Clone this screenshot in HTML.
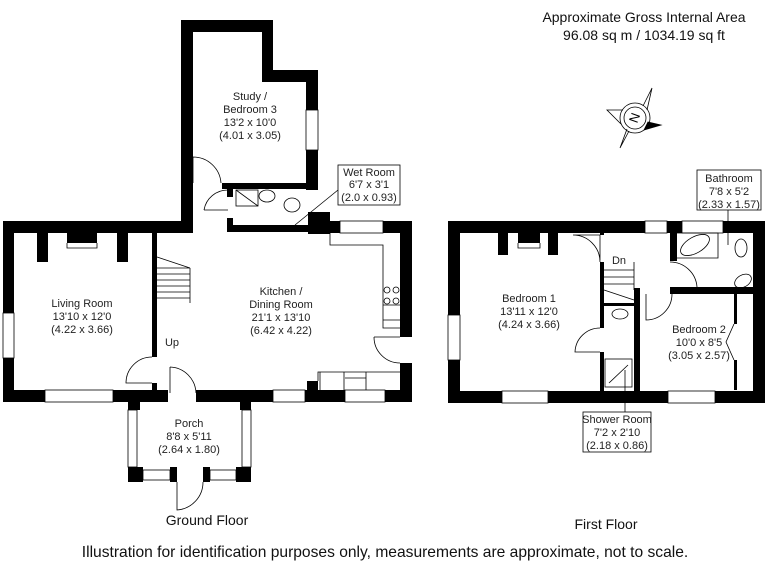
<!DOCTYPE html>
<html><head><meta charset="utf-8"><style>
html,body{margin:0;padding:0;background:#fff;}
svg{display:block;font-family:"Liberation Sans",Arial,sans-serif;}
</style></head><body>
<svg width="768" height="576" viewBox="0 0 768 576" xmlns="http://www.w3.org/2000/svg">
<g fill="#000">
<rect x="181" y="20" width="92" height="12"/>
<rect x="181" y="20" width="12" height="201"/>
<rect x="262" y="20" width="11" height="62"/>
<rect x="262" y="70" width="56" height="12"/>
<rect x="306" y="70" width="12" height="40"/>
<rect x="306" y="150" width="12" height="40"/>
<rect x="222" y="183" width="96" height="6"/>
<rect x="227" y="183" width="6" height="14"/>
<rect x="227" y="218" width="6" height="14"/>
<rect x="227" y="225" width="91" height="7"/>
<rect x="308" y="212" width="22" height="22"/>
<rect x="3" y="221" width="190" height="12"/>
<rect x="308" y="221" width="32" height="12"/>
<rect x="383" y="221" width="29" height="12"/>
<rect x="400" y="221" width="12" height="116"/>
<rect x="400" y="363" width="12" height="39"/>
<rect x="3" y="221" width="11" height="92"/>
<rect x="3" y="358" width="11" height="44"/>
<rect x="3" y="390" width="42" height="12"/>
<rect x="113" y="390" width="55" height="12"/>
<rect x="196" y="390" width="77" height="12"/>
<rect x="305" y="390" width="40" height="12"/>
<rect x="385" y="390" width="27" height="12"/>
<rect x="37" y="233" width="11" height="29"/>
<rect x="67" y="233" width="30" height="10"/>
<rect x="117" y="233" width="11" height="29"/>
<rect x="152" y="221" width="5" height="136"/>
<rect x="152" y="383" width="5" height="12"/>
<rect x="307" y="381" width="11" height="12"/>
<rect x="128" y="402" width="12" height="8"/>
<rect x="240" y="402" width="11" height="8"/>
<rect x="128" y="467" width="15" height="15"/>
<rect x="170" y="467" width="7" height="15"/>
<rect x="203" y="467" width="7" height="15"/>
<rect x="236" y="467" width="15" height="15"/>
<rect x="448" y="221" width="197" height="12"/>
<rect x="667" y="221" width="15" height="12"/>
<rect x="723" y="221" width="42" height="12"/>
<rect x="448" y="221" width="12" height="94"/>
<rect x="448" y="360" width="12" height="43"/>
<rect x="753" y="221" width="12" height="182"/>
<rect x="448" y="391" width="54" height="12"/>
<rect x="548" y="391" width="120" height="12"/>
<rect x="715" y="391" width="50" height="12"/>
<rect x="498" y="233" width="10" height="22"/>
<rect x="518" y="233" width="22" height="10"/>
<rect x="548" y="233" width="10" height="22"/>
<rect x="600" y="221" width="4" height="14"/>
<rect x="600" y="262" width="4" height="66"/>
<rect x="600" y="352" width="4" height="41"/>
<rect x="634" y="288" width="6" height="105"/>
<rect x="604" y="303" width="30" height="3"/>
<rect x="670" y="221" width="7" height="40"/>
<rect x="670" y="287" width="95" height="7"/>
<rect x="734" y="294" width="3" height="30"/>
<rect x="734" y="360" width="3" height="30"/>
</g>
<g fill="none" stroke="#000" stroke-width="0.8">
<rect x="306" y="110" width="12" height="40"/>
<rect x="340" y="221" width="43" height="12"/>
<rect x="3" y="313" width="11" height="45"/>
<rect x="45" y="390" width="68" height="12"/>
<rect x="273" y="390" width="32" height="12"/>
<rect x="345" y="390" width="40" height="12"/>
<rect x="128" y="410" width="9" height="57"/>
<rect x="242" y="410" width="9" height="57"/>
<rect x="143" y="470" width="27" height="10"/>
<rect x="210" y="470" width="26" height="10"/>
<rect x="645" y="221" width="22" height="12"/>
<rect x="682" y="221" width="41" height="12"/>
<rect x="448" y="315" width="12" height="45"/>
<rect x="502" y="391" width="46" height="12"/>
<rect x="668" y="391" width="47" height="12"/>
<path d="M193 157 A28 28 0 0 1 221 183 M193 157 V183"/>
<path d="M228 190 A24 24 0 0 0 204 210 M204 210 H228"/>
<path d="M152 357 A26 26 0 0 0 126 383 H152"/>
<path d="M170 367 A27 27 0 0 1 196 393 M170 367 V393"/>
<path d="M374 337 A26 26 0 0 0 400 363 M374 337 H400"/>
<path d="M177 482 V510 A28 28 0 0 0 203 482"/>
<path d="M600 235 V260 M573 235 A27 27 0 0 1 600 262 M573 235 H600"/>
<path d="M670 262 A27 27 0 0 1 697 287"/>
<path d="M672 294 A26 26 0 0 1 646 320 V294"/>
<path d="M600 328 A25 25 0 0 0 575 352 H600"/>
<path d="M734 324 L726 342 L734 360"/>
<path d="M157 268 L190 268 M157 274 H190 M157 280 H190 M157 286 H190 M157 292 H190 M157 298 H190 M190 268 V303 M157 257 L190 268"/>
<path d="M604 270 H634 M604 277 H634 M604 284 H634 M634 262 V290 M604 290 L634 300"/>
<rect x="236" y="190" width="22" height="16"/><path d="M236 190 L258 206"/>
<ellipse cx="267" cy="196" rx="8" ry="6"/>
<ellipse cx="292" cy="205" rx="8" ry="7"/>
<path d="M330 233 V245 H383 V320 H400 M383 320 V328 H400 M383 255 V305 H400"/>
<circle cx="387" cy="290" r="3"/><circle cx="396" cy="290" r="3"/><circle cx="387" cy="301" r="3"/><circle cx="396" cy="301" r="3"/>
<path d="M318 381 V372 H400 M320 372 V390 M344 372 V390 M366 372 V390 M345 378 H366"/>
<path d="M67 243 V248 H97 V243"/>
<path d="M518 243 V248 H540 V243"/>
<path d="M677 233 H718 V258 H677"/>
<ellipse cx="695" cy="245" rx="16" ry="8" transform="rotate(-30 695 245)"/>
<ellipse cx="741" cy="248" rx="6" ry="9"/>
<ellipse cx="743" cy="281" rx="9" ry="6" transform="rotate(-30 743 281)"/>
<ellipse cx="620" cy="314" rx="8" ry="5"/>
<rect x="605" y="359" width="27" height="28"/><path d="M609 383 L628 365"/>
<rect x="338" y="165" width="62" height="40" fill="#fff"/>
<path d="M338 190 L295 225"/>
<rect x="697" y="170" width="64" height="40" fill="#fff"/>
<path d="M728 210 V245"/>
<rect x="583" y="412" width="68" height="40" fill="#fff"/>
<path d="M625 412 V370"/>
<g transform="translate(635,118)">
<circle r="15"/><circle r="11"/>
<path d="M-12 -8 L-28 -8 L-14 6 M8 -12 L17 -30 L12 -8 M-6 13 L-15 30 L-8 11"/>
<path d="M13 4 L26 7 L9 12 Z" fill="#000"/>
<text x="0" y="4" font-size="13" text-anchor="middle" fill="#000" stroke="none" transform="rotate(-70)">N</text>
</g>
</g>
<g font-size="11" text-anchor="middle" fill="#222">
<text x="250" y="100">Study /</text><text x="250" y="113">Bedroom 3</text><text x="250" y="126">13'2 x 10'0</text><text x="250" y="139">(4.01 x 3.05)</text>
<text x="369" y="176">Wet Room</text><text x="369" y="188">6'7 x 3'1</text><text x="369" y="201">(2.0 x 0.93)</text>
<text x="82" y="307">Living Room</text><text x="82" y="320">13'10 x 12'0</text><text x="82" y="333">(4.22 x 3.66)</text>
<text x="281" y="295">Kitchen /</text><text x="281" y="308">Dining Room</text><text x="281" y="321">21'1 x 13'10</text><text x="281" y="334">(6.42 x 4.22)</text>
<text x="172" y="346">Up</text>
<text x="189" y="427">Porch</text><text x="189" y="440">8'8 x 5'11</text><text x="189" y="453">(2.64 x 1.80)</text>
<text x="529" y="302">Bedroom 1</text><text x="529" y="315">13'11 x 12'0</text><text x="529" y="328">(4.24 x 3.66)</text>
<text x="619" y="264">Dn</text>
<text x="699" y="333">Bedroom 2</text><text x="699" y="346">10'0 x 8'5</text><text x="699" y="359">(3.05 x 2.57)</text>
<text x="729" y="182">Bathroom</text><text x="729" y="195">7'8 x 5'2</text><text x="729" y="208">(2.33 x 1.57)</text>
<text x="617" y="423">Shower Room</text><text x="617" y="436">7'2 x 2'10</text><text x="617" y="449">(2.18 x 0.86)</text>
</g>
<g font-size="14" text-anchor="middle" fill="#111">
<text x="644" y="22">Approximate Gross Internal Area</text>
<text x="644" y="40">96.08 sq m / 1034.19 sq ft</text>
<text x="207" y="525">Ground Floor</text>
<text x="606" y="529">First Floor</text>
<text x="385" y="557" font-size="15.6">Illustration for identification purposes only, measurements are approximate, not to scale.</text>
</g>
</svg>
</body></html>
